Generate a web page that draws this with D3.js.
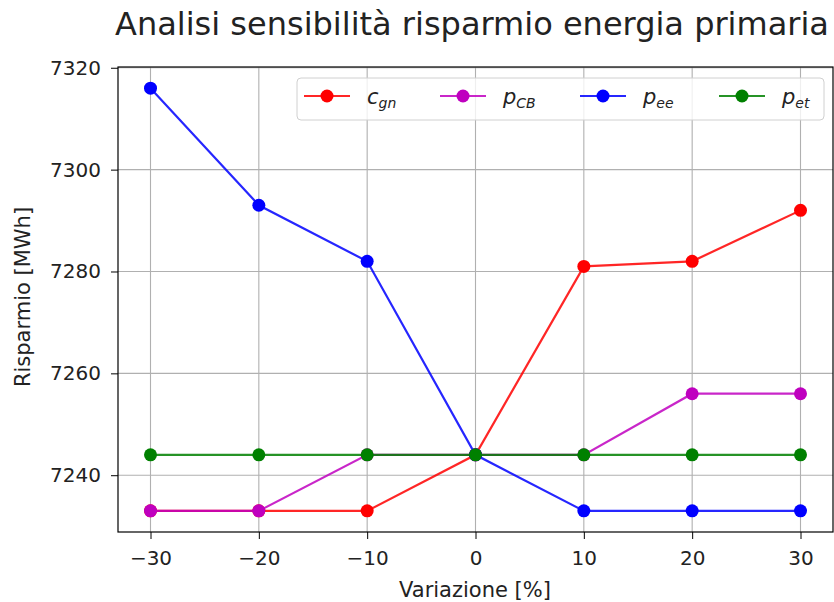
<!DOCTYPE html>
<html>
<head>
<meta charset="utf-8">
<script src="https://cdn.jsdelivr.net/npm/d3@7"></script>
<style>
  body { margin: 0; background: #fff; }
  svg { font-family: "DejaVu Sans", sans-serif; }
</style>
</head>
<body>
<div id="chart"></div>
<script>
// x values (variazione %)
const variazioni = [-30, -20, -10, 0, 10, 20, 30];
// series values [MWh]
const cGn = [7233, 7233, 7233, 7244, 7281, 7282, 7292];
const pCB = [7233, 7233, 7244, 7244, 7244, 7256, 7256];
const pEe = [7316, 7293, 7282, 7244, 7233, 7233, 7233];
const pEt = [7244, 7244, 7244, 7244, 7244, 7244, 7244];
const yTicks = [7240, 7260, 7280, 7300, 7320];

const series = [
  { base: 'c', sub: 'gn', values: cGn, color: '#ff0000' },
  { base: 'p', sub: 'CB', values: pCB, color: '#bf00bf' },
  { base: 'p', sub: 'ee', values: pEe, color: '#0000ff' },
  { base: 'p', sub: 'et', values: pEt, color: '#008000' },
];

const width = 834;
const height = 602;
const margin = { top: 67, right: 1, bottom: 70, left: 118 };
const innerW = width - margin.left - margin.right;
const innerH = height - margin.top - margin.bottom;

const svg = d3.select('#chart').append('svg')
  .attr('width', width)
  .attr('height', height);

const g = svg.append('g')
  .attr('transform', `translate(${margin.left},${margin.top})`);

const x = d3.scaleLinear().domain([-33, 33]).range([0, innerW]);
const allVals = [].concat(cGn, pCB, pEe, pEt);
const yMin = d3.min(allVals), yMax = d3.max(allVals);
const pad = (yMax - yMin) * 0.05;
const y = d3.scaleLinear().domain([yMin - pad, yMax + pad]).range([innerH, 0]);

// grid
g.append('g').selectAll('line').data(variazioni).enter().append('line')
  .attr('x1', (d) => x(d)).attr('x2', (d) => x(d))
  .attr('y1', 0).attr('y2', innerH)
  .style('stroke', '#b0b0b0').style('stroke-width', 1.1);
g.append('g').selectAll('line').data(yTicks).enter().append('line')
  .attr('y1', (d) => y(d)).attr('y2', (d) => y(d))
  .attr('x1', 0).attr('x2', innerW)
  .style('stroke', '#b0b0b0').style('stroke-width', 1.1);

// axes
const xAxis = d3.axisBottom(x).tickValues(variazioni).tickSizeInner(7).tickSizeOuter(0).tickPadding(12)
  .tickFormat((d) => (d < 0 ? '\u2212' + Math.abs(d) : d));
const yAxis = d3.axisLeft(y).tickValues(yTicks).tickSizeInner(7).tickSizeOuter(0).tickPadding(10)
  .tickFormat(d3.format('d'));

const gx = g.append('g').attr('transform', `translate(0,${innerH})`).call(xAxis);
const gy = g.append('g').call(yAxis);
[gx, gy].forEach((ax) => {
  ax.select('.domain').remove();
  ax.selectAll('.tick line').style('stroke', '#000').style('stroke-width', 1);
  ax.selectAll('.tick text').style('font-size', '20px').style('fill', '#222')
    .style('font-family', '"DejaVu Sans", sans-serif');
});

// frame
g.append('rect')
  .attr('x', 0).attr('y', 0).attr('width', innerW).attr('height', innerH)
  .style('fill', 'none').style('stroke', '#000').style('stroke-width', 1.2);

// lines + markers
const line = d3.line().x((d, i) => x(variazioni[i])).y((d) => y(d));
series.forEach((s) => {
  g.append('path')
    .datum(s.values)
    .attr('d', line)
    .style('fill', 'none')
    .style('stroke', s.color)
    .style('stroke-opacity', 0.85)
    .style('stroke-width', 2.2);
  g.append('g').selectAll('circle').data(s.values).enter().append('circle')
    .attr('cx', (d, i) => x(variazioni[i]))
    .attr('cy', (d) => y(d))
    .attr('r', 6.5)
    .style('fill', s.color);
});

// title
svg.append('text')
  .attr('x', 472)
  .attr('y', 35)
  .style('text-anchor', 'middle')
  .style('font-size', '32px')
  .style('fill', '#222')
  .text('Analisi sensibilità risparmio energia primaria');

// axis labels
svg.append('text')
  .attr('x', 475)
  .attr('y', 597)
  .style('text-anchor', 'middle')
  .style('font-size', '21px')
  .style('fill', '#222')
  .text('Variazione [%]');

svg.append('text')
  .attr('transform', 'translate(30,297) rotate(-90)')
  .style('text-anchor', 'middle')
  .style('font-size', '21px')
  .style('fill', '#222')
  .text('Risparmio [MWh]');

// legend
const legend = g.append('g').attr('transform', 'translate(179,11)');
legend.append('rect')
  .attr('x', 0).attr('y', 0).attr('width', 527).attr('height', 42)
  .attr('rx', 4)
  .style('fill', 'rgba(255,255,255,0.8)')
  .style('stroke', '#d0d0d0');
const legOffsets = [7, 143, 283, 422];
series.forEach((s, i) => {
  const lg = legend.append('g').attr('transform', `translate(${legOffsets[i]},18)`);
  lg.append('line').attr('x1', 0).attr('x2', 46).attr('y1', 0).attr('y2', 0)
    .style('stroke', s.color).style('stroke-opacity', 0.85).style('stroke-width', 2.2);
  lg.append('circle').attr('cx', 23).attr('cy', 0).attr('r', 6.5).style('fill', s.color);
  const t = lg.append('text').attr('x', 63).attr('y', 8)
    .style('font-size', '21px').style('font-style', 'italic').style('fill', '#222');
  t.append('tspan').text(s.base);
  t.append('tspan').attr('dy', 4).style('font-size', '14px').text(s.sub);
});
</script>
</body>
</html>
